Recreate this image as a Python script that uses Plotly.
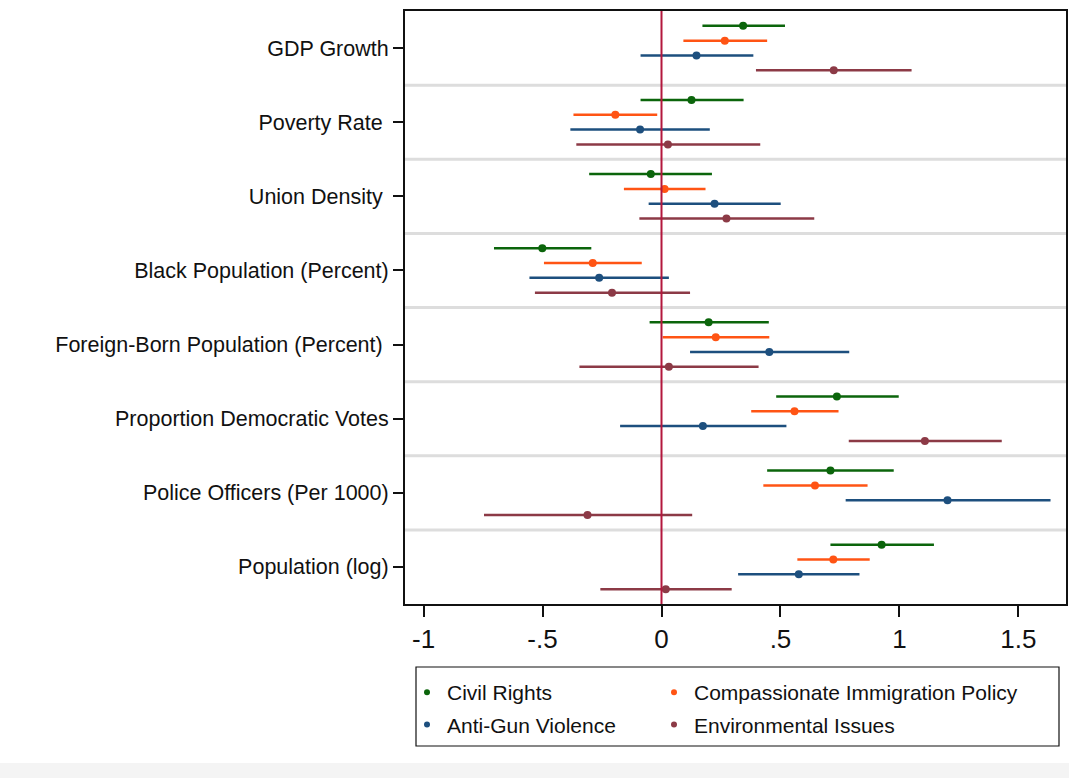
import plotly.graph_objects as go

# Covariates, listed top to bottom
categories = [
    "GDP Growth",
    "Poverty Rate\u00a0",
    "Union Density\u00a0",
    "Black Population (Percent)",
    "Foreign-Born Population (Percent)\u00a0",
    "Proportion Democratic Votes",
    "Police Officers (Per 1000)",
    "Population (log)",
]

series_names = ["Civil Rights", "Compassionate Immigration Policy",
                "Anti-Gun Violence", "Environmental Issues"]

# Point estimates and 95% interval bounds per series (one value per covariate)
civil_est = [0.343, 0.126, -0.045, -0.501, 0.198, 0.737, 0.710, 0.925]
civil_lo = [0.172, -0.088, -0.304, -0.704, -0.050, 0.482, 0.444, 0.710]
civil_hi = [0.519, 0.345, 0.212, -0.295, 0.451, 0.997, 0.976, 1.145]

immig_est = [0.266, -0.194, 0.013, -0.289, 0.228, 0.559, 0.645, 0.722]
immig_lo = [0.092, -0.370, -0.158, -0.494, 0.005, 0.377, 0.428, 0.571]
immig_hi = [0.444, -0.018, 0.185, -0.083, 0.453, 0.744, 0.866, 0.875]

gun_est = [0.147, -0.090, 0.223, -0.262, 0.453, 0.174, 1.202, 0.577]
gun_lo = [-0.088, -0.383, -0.054, -0.555, 0.120, -0.174, 0.774, 0.322]
gun_hi = [0.386, 0.203, 0.501, 0.031, 0.789, 0.525, 1.635, 0.832]

env_est = [0.724, 0.027, 0.273, -0.208, 0.031, 1.107, -0.311, 0.018]
env_lo = [0.397, -0.358, -0.093, -0.532, -0.345, 0.787, -0.746, -0.257]
env_hi = [1.051, 0.415, 0.642, 0.120, 0.408, 1.430, 0.129, 0.295]

x_tick_vals = [-1, -0.5, 0, 0.5, 1, 1.5]
x_tick_text = ["-1", "-.5", "0", ".5", "1", "1.5"]

colors = ["#0b650b", "#ff5414", "#1d4f7e", "#8c3a46"]
row_offsets = [-0.3, -0.1, 0.1, 0.3]
estimates = [civil_est, immig_est, gun_est, env_est]
lowers = [civil_lo, immig_lo, gun_lo, env_lo]
uppers = [civil_hi, immig_hi, gun_hi, env_hi]
# Left legend column holds the 1st and 3rd series, right column the others
legend_ids = ["legend", "legend2", "legend", "legend2"]

FONT = "Liberation Sans, Arial, Helvetica, sans-serif"

# Plot area in pixels, used to place the legend and frame in paper units
PLOT_L, PLOT_R, PLOT_T, PLOT_B = 405, 1066, 11, 604
PW, PH = PLOT_R - PLOT_L, PLOT_B - PLOT_T


def px_x(px):
    return (px - PLOT_L) / PW


def px_y(py):
    return (PLOT_B - py) / PH


fig = go.Figure()

for name, color, off, est, lo, hi in zip(series_names, colors, row_offsets,
                                         estimates, lowers, uppers):
    ypos = [i + off for i in range(len(categories))]
    fig.add_trace(go.Scatter(
        x=est, y=ypos, mode="markers", name=name, showlegend=False,
        marker=dict(color=color, size=8),
        error_x=dict(type="data", symmetric=False,
                     array=[h - e for h, e in zip(hi, est)],
                     arrayminus=[e - l for e, l in zip(est, lo)],
                     color=color, thickness=2.5, width=0),
    ))

# Legend entries with small dots
for name, color, lg in zip(series_names, colors, legend_ids):
    fig.add_trace(go.Scatter(
        x=[None], y=[None], mode="markers", name=name,
        legend=lg, legendgroup=name,
        marker=dict(color=color, size=6),
    ))

shapes = []
# Light separators between covariate groups
for k in range(len(categories) - 1):
    shapes.append(dict(type="line", xref="paper", x0=0, x1=1, yref="y",
                       y0=k + 0.5, y1=k + 0.5, layer="below",
                       line=dict(color="#dddddd", width=3)))
# Reference line at zero
shapes.append(dict(type="line", xref="x", x0=0, x1=0, yref="paper",
                   y0=0, y1=1, layer="above",
                   line=dict(color="#b3173d", width=2)))
# Legend frame
shapes.append(dict(type="rect", xref="paper", yref="paper",
                   x0=px_x(416), x1=px_x(1059), y0=px_y(746), y1=px_y(667),
                   line=dict(color="#111111", width=1.2), fillcolor="rgba(0,0,0,0)"))
# Pale strip along the bottom edge
shapes.append(dict(type="rect", xref="paper", yref="paper",
                   x0=px_x(0), x1=px_x(1069), y0=px_y(778), y1=px_y(763),
                   line=dict(width=0), fillcolor="#f4f4f4", layer="below"))

legend_common = dict(
    orientation="v", xref="paper", yref="paper",
    xanchor="left", y=px_y(672), yanchor="top",
    tracegroupgap=2,
    font=dict(family=FONT, size=21, color="#111111"),
    bgcolor="rgba(0,0,0,0)", borderwidth=0,
    itemclick=False, itemdoubleclick=False,
)

fig.update_layout(
    width=1069, height=778,
    margin=dict(l=PLOT_L, r=1069 - PLOT_R, t=PLOT_T, b=778 - PLOT_B,
                autoexpand=False),
    paper_bgcolor="white", plot_bgcolor="white",
    font=dict(family=FONT, color="#111111", size=21),
    shapes=shapes,
    showlegend=True,
    legend=dict(x=px_x(407), **legend_common),
    legend2=dict(x=px_x(654), **legend_common),
    xaxis=dict(
        range=[-1.078, 1.70], tickvals=x_tick_vals, ticktext=x_tick_text,
        showgrid=False, zeroline=False,
        showline=True, linecolor="#111111", linewidth=2, mirror=True,
        ticks="outside", ticklen=11, tickwidth=2, tickcolor="#111111",
        tickfont=dict(size=26, family=FONT, color="#111111"),
    ),
    yaxis=dict(
        range=[len(categories) - 0.5, -0.5],
        tickvals=list(range(len(categories))), ticktext=categories,
        showgrid=False, zeroline=False,
        showline=True, linecolor="#111111", linewidth=2, mirror=True,
        ticks="outside", ticklen=10, tickwidth=1.5, tickcolor="#111111",
        tickfont=dict(size=21.5, family=FONT, color="#111111"),
    ),
)

fig.write_html("out.html")
